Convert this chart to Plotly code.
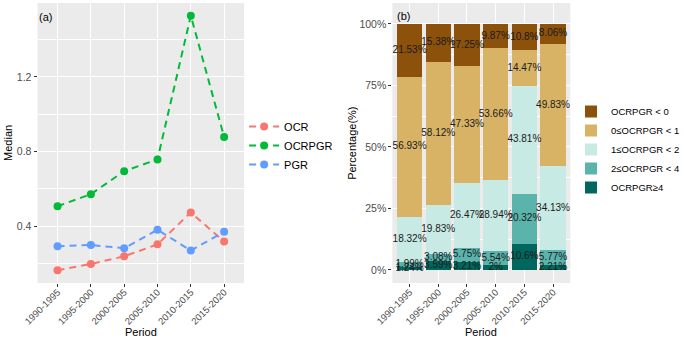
import plotly.graph_objects as go

# ---------------- data ----------------
periods = ["1990-1995", "1995-2000", "2000-2005", "2005-2010", "2010-2015", "2015-2020"]

ocr = [0.164, 0.198, 0.239, 0.303, 0.474, 0.318]
ocrpgr = [0.507, 0.572, 0.695, 0.758, 1.528, 0.878]
pgr = [0.293, 0.300, 0.282, 0.381, 0.270, 0.370]

# stacked shares (%), listed from bottom of stack to top
cat_labels = ["OCRPGR≥4", "2≤OCRPGR < 4", "1≤OCRPGR < 2", "0≤OCRPGR < 1", "OCRPGR < 0"]
share_ge4 = [1.24, 3.59, 3.21, 2.00, 10.60, 2.21]
share_2_4 = [1.99, 3.08, 5.75, 5.54, 20.32, 5.77]
share_1_2 = [18.32, 19.83, 26.47, 28.94, 43.81, 34.13]
share_0_1 = [56.93, 58.12, 47.33, 53.66, 14.47, 49.83]
share_lt0 = [21.53, 15.38, 17.25, 9.87, 10.80, 8.06]

a_ticks = [0.4, 0.8, 1.2]
a_tick_text = ["0.4", "0.8", "1.2"]
b_ticks = [0, 25, 50, 75, 100]
b_tick_text = ["0%", "25%", "50%", "75%", "100%"]

# ---------------- style ----------------
W, H = 685, 340
FONT = "Liberation Sans, Arial, sans-serif"
line_colors = {"OCR": "#F8766D", "OCRPGR": "#00BA38", "PGR": "#619CFF"}
bar_colors = ["#01665E", "#5AB4AC", "#C7EAE5", "#D8B365", "#8C510A"]

def px_x(p):
    return p / W

def px_y(p):
    return 1 - p / H

fig = go.Figure()

# ---- panel (a): lines ----
for name, vals in [("OCR", ocr), ("OCRPGR", ocrpgr), ("PGR", pgr)]:
    fig.add_trace(go.Scatter(
        x=periods, y=vals, name=name, mode="lines+markers",
        line=dict(color=line_colors[name], width=2, dash="7px,5px"),
        marker=dict(color=line_colors[name], size=8),
        xaxis="x", yaxis="y", legend="legend",
    ))

# ---- panel (b): stacked bars ----
series = [share_ge4, share_2_4, share_1_2, share_0_1, share_lt0]
for lab, vals, col in zip(cat_labels, series, bar_colors):
    fig.add_trace(go.Bar(
        x=periods, y=vals, name=lab, marker=dict(color=col, line=dict(width=0)),
        width=0.88, xaxis="x2", yaxis="y2", legend="legend2",
    ))

# labels centred in each stacked segment
cum = [0.0] * len(periods)
for vals in series:
    mids = [c + v / 2 for c, v in zip(cum, vals)]
    fig.add_trace(go.Scatter(
        x=periods, y=mids, mode="text",
        text=[f"{v:g}%" for v in vals],
        textfont=dict(family=FONT, size=10, color="#1a1a1a"),
        showlegend=False, xaxis="x2", yaxis="y2", hoverinfo="skip",
    ))
    cum = [c + v for c, v in zip(cum, vals)]

axis_common = dict(
    showline=False, zeroline=False, ticks="outside", ticklen=3, tickwidth=1,
    tickcolor="#333333", gridcolor="#FFFFFF", gridwidth=1.1, automargin=False,
)
ytick_font = dict(family=FONT, size=10.5, color="#4D4D4D")
xtick_font = dict(family=FONT, size=9.5, color="#4D4D4D")

ydom = [px_y(283), px_y(3)]

fig.update_layout(
    width=W, height=H,
    margin=dict(l=0, r=0, t=0, b=0),
    paper_bgcolor="#FFFFFF",
    plot_bgcolor="#EBEBEB",
    barmode="stack",
    font=dict(family=FONT, size=11, color="#000000"),
    xaxis=dict(domain=[px_x(38), px_x(247)], type="category", range=[-0.6, 5.6],
               tickangle=-45, anchor="y", tickfont=xtick_font, ticklabelstandoff=-4,
               **axis_common),
    yaxis=dict(domain=ydom, range=[0.096, 1.596], tickvals=a_ticks, ticktext=a_tick_text,
               anchor="x", tickfont=ytick_font,
               minor=dict(tickvals=[0.2, 0.6, 1.0, 1.4], gridcolor="#FFFFFF",
                          gridwidth=0.5, ticks=""),
               **axis_common),
    xaxis2=dict(domain=[px_x(397), px_x(577)], type="category", range=[-0.6, 5.6],
                tickangle=-45, anchor="y2", tickfont=xtick_font, ticklabelstandoff=-4,
                **axis_common),
    yaxis2=dict(domain=ydom, range=[-5.3, 108.5], tickvals=b_ticks, ticktext=b_tick_text,
                anchor="x2", tickfont=ytick_font,
                minor=dict(tickvals=[12.5, 37.5, 62.5, 87.5], gridcolor="#FFFFFF",
                           gridwidth=0.5, ticks=""),
                **axis_common),
    legend=dict(x=px_x(247), y=px_y(112), xanchor="left", yanchor="top",
                font=dict(family=FONT, size=11, color="#000000"),
                bgcolor="rgba(0,0,0,0)", itemwidth=30, tracegroupgap=0),
    legend2=dict(x=px_x(578), y=px_y(97), xanchor="left", yanchor="top",
                 font=dict(family=FONT, size=9.5, color="#000000"),
                 bgcolor="rgba(0,0,0,0)", itemwidth=30, tracegroupgap=0,
                 traceorder="reversed"),
    showlegend=True,
)

annotations = [
    dict(text="(a)", x=px_x(37), y=px_y(17), xref="paper", yref="paper",
         xanchor="left", yanchor="middle", showarrow=False, font=dict(size=11)),
    dict(text="(b)", x=px_x(400), y=px_y(16), xref="paper", yref="paper",
         xanchor="left", yanchor="middle", showarrow=False, font=dict(size=11)),
    dict(text="Median", x=px_x(8), y=(ydom[0] + ydom[1]) / 2, xref="paper", yref="paper",
         xanchor="center", yanchor="middle", textangle=-90, showarrow=False, font=dict(size=11)),
    dict(text="Period", x=(px_x(38) + px_x(247)) / 2, y=px_y(332), xref="paper", yref="paper",
         xanchor="center", yanchor="middle", showarrow=False, font=dict(size=11)),
    dict(text="Percentage(%)", x=px_x(356), y=(ydom[0] + ydom[1]) / 2, xref="paper", yref="paper",
         xanchor="center", yanchor="middle", textangle=-90, showarrow=False, font=dict(size=11)),
    dict(text="Period", x=(px_x(397) + px_x(577)) / 2, y=px_y(332), xref="paper", yref="paper",
         xanchor="center", yanchor="middle", showarrow=False, font=dict(size=11)),
]
fig.update_layout(annotations=annotations)

fig.write_html("out.html", config={"displayModeBar": False},
               post_script="document.body.style.margin='0';document.body.style.padding='0';")
